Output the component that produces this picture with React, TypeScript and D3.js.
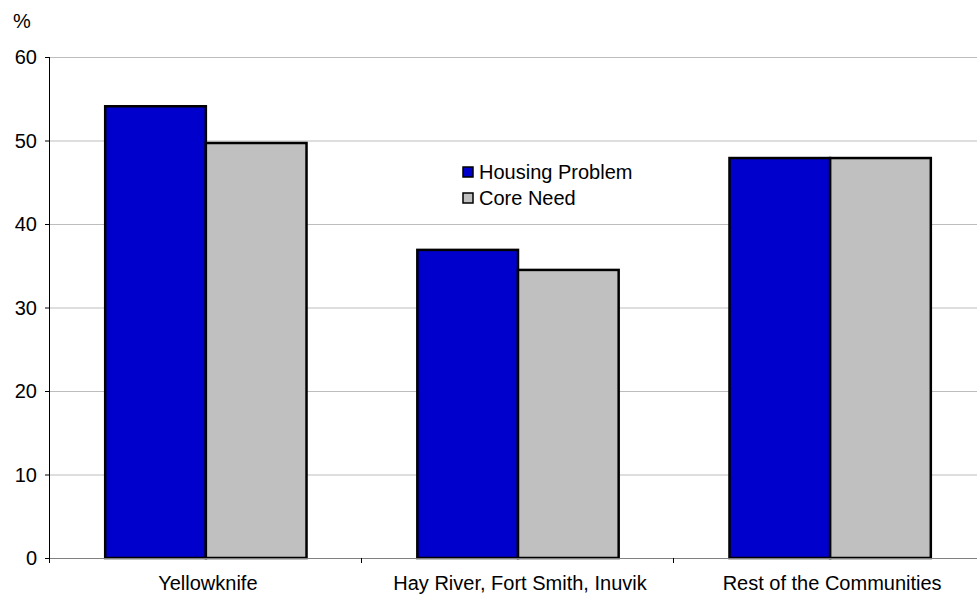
import * as d3 from 'd3';
import { useEffect, useRef } from 'react';

const categories = ['Yellowknife', 'Hay River, Fort Smith, Inuvik', 'Rest of the Communities'];
const seriesNames = ['Housing Problem', 'Core Need'];
const housingProblem = [54.1, 36.9, 47.9];
const coreNeed = [49.7, 34.5, 47.9];
const yTicks = [0, 10, 20, 30, 40, 50, 60];
const seriesColors = ['#0000CC', '#C0C0C0'];

const width = 977;
const height = 595;

function App() {
  const svgElement = useRef<SVGSVGElement | null>(null);

  useEffect(() => {
    if (!svgElement.current) return;
    const svg = d3.select(svgElement.current);
    svg.selectAll('*').remove();

    const left = 49;
    const right = 987;
    const top = 57;
    const bottom = 558;
    const font = "'Liberation Sans', Arial, sans-serif";

    const y = d3.scaleLinear().domain([0, 60]).range([bottom, top]);
    const x = d3
      .scaleBand<string>()
      .domain(categories)
      .range([left, right])
      .paddingInner(0.355)
      .paddingOuter(0.18);
    const xs = d3.scaleBand<string>().domain(seriesNames).range([0, x.bandwidth()]);

    // gridlines
    svg
      .append('g')
      .selectAll('line')
      .data(yTicks.filter((t) => t > 0))
      .join('line')
      .attr('x1', left)
      .attr('x2', right)
      .attr('y1', (d) => y(d) + 0.5)
      .attr('y2', (d) => y(d) + 0.5)
      .attr('stroke', '#BDBDBD')
      .attr('stroke-width', 1);

    // y axis
    svg
      .append('line')
      .attr('x1', left + 0.5)
      .attr('x2', left + 0.5)
      .attr('y1', top)
      .attr('y2', bottom)
      .attr('stroke', '#000');

    const yAxis = svg.append('g');
    yAxis
      .selectAll('line')
      .data(yTicks)
      .join('line')
      .attr('x1', left - 4)
      .attr('x2', left)
      .attr('y1', (d) => y(d) + 0.5)
      .attr('y2', (d) => y(d) + 0.5)
      .attr('stroke', '#000');
    yAxis
      .selectAll('text')
      .data(yTicks)
      .join('text')
      .attr('x', left - 12)
      .attr('y', (d) => y(d) + 7)
      .attr('text-anchor', 'end')
      .attr('font-family', font)
      .attr('font-size', 20)
      .attr('fill', '#000')
      .text((d) => d);

    svg
      .append('text')
      .attr('x', 13)
      .attr('y', 28)
      .attr('font-family', font)
      .attr('font-size', 20)
      .text('%');

    // bars
    const data = categories.map((c, i) => ({
      category: c,
      values: [housingProblem[i], coreNeed[i]],
    }));

    const groups = svg
      .append('g')
      .selectAll('g')
      .data(data)
      .join('g')
      .attr('transform', (d) => `translate(${x(d.category)},0)`);

    groups
      .selectAll('rect')
      .data((d) => d.values.map((v, j) => ({ name: seriesNames[j], value: v, idx: j })))
      .join('rect')
      .attr('x', (d) => xs(d.name) ?? 0)
      .attr('y', (d) => y(d.value))
      .attr('width', xs.bandwidth())
      .attr('height', (d) => bottom - y(d.value))
      .attr('fill', (d) => seriesColors[d.idx])
      .attr('stroke', '#000')
      .attr('stroke-width', 2.5);

    // x axis
    svg
      .append('line')
      .attr('x1', left)
      .attr('x2', right)
      .attr('y1', bottom + 0.5)
      .attr('y2', bottom + 0.5)
      .attr('stroke', '#808080');

    const boundaries = d3.range(categories.length + 1).map((i) => left + i * x.step());
    svg
      .append('g')
      .selectAll('line')
      .data(boundaries)
      .join('line')
      .attr('x1', (d) => Math.round(d) + 0.5)
      .attr('x2', (d) => Math.round(d) + 0.5)
      .attr('y1', bottom)
      .attr('y2', bottom + 5)
      .attr('stroke', '#000');

    svg
      .append('g')
      .selectAll('text')
      .data(categories)
      .join('text')
      .attr('x', (d) => (x(d) ?? 0) + x.bandwidth() / 2 + 2)
      .attr('y', 590)
      .attr('text-anchor', 'middle')
      .attr('font-family', font)
      .attr('font-size', 20)
      .text((d) => d);

    // legend
    const legend = svg
      .append('g')
      .selectAll('g')
      .data(seriesNames)
      .join('g')
      .attr('transform', (_, i) => `translate(463,${167 + i * 26})`);
    legend
      .append('rect')
      .attr('width', 10)
      .attr('height', 10)
      .attr('fill', (_, i) => seriesColors[i])
      .attr('stroke', '#000')
      .attr('stroke-width', 1.5);
    legend
      .append('text')
      .attr('x', 16)
      .attr('y', 12)
      .attr('font-family', font)
      .attr('font-size', 20)
      .text((d) => d);
  }, []);

  return (
    <svg
      ref={svgElement}
      width={width}
      height={height}
      style={{ position: 'absolute', left: 0, top: 0, background: '#fff', overflow: 'hidden' }}
    />
  );
}

export default App;
